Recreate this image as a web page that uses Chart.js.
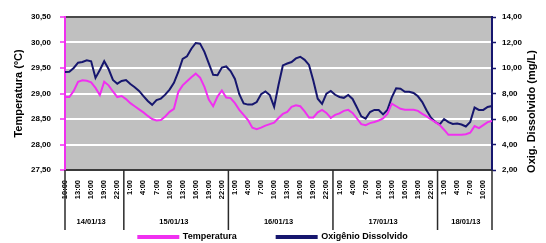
<!DOCTYPE html>
<html>
<head>
<meta charset="utf-8">
<script src="https://cdn.jsdelivr.net/npm/chart.js@4/dist/chart.umd.min.js"></script>
<style>
  html, body { margin: 0; padding: 0; background: #fff; }
  #wrap { width: 546px; height: 243px; }
</style>
</head>
<body>
<div id="wrap"><canvas id="graficoCampanha"></canvas></div>
<script>
// dias e horas (leituras de hora em hora)
const dias = ["14/01/13", "15/01/13", "16/01/13", "17/01/13", "18/01/13"];
const horas14 = ["10:00", "11:00", "12:00", "13:00", "14:00", "15:00", "16:00", "17:00", "18:00", "19:00", "20:00", "21:00", "22:00", "23:00"];
const horasDia = ["0:00", "1:00", "2:00", "3:00", "4:00", "5:00", "6:00", "7:00", "8:00", "9:00", "10:00", "11:00",
  "12:00", "13:00", "14:00", "15:00", "16:00", "17:00", "18:00", "19:00", "20:00", "21:00", "22:00", "23:00"];
const horas18 = ["0:00", "1:00", "2:00", "3:00", "4:00", "5:00", "6:00", "7:00", "8:00", "9:00", "10:00", "11:00", "12:00"];
const horasPorDia = [horas14, horasDia, horasDia, horasDia, horas18];

const temperatura = [
  28.93, 28.93, 29.05, 29.23, 29.26, 29.25, 29.22, 29.11, 28.97, 29.23,
  29.16, 29.04, 28.93, 28.95, 28.89, 28.81, 28.75, 28.69, 28.63, 28.56,
  28.50, 28.47, 28.48, 28.55, 28.64, 28.70, 29.03, 29.16, 29.24, 29.32,
  29.39, 29.31, 29.13, 28.88, 28.75, 28.94, 29.06, 28.92, 28.91, 28.81,
  28.68, 28.58, 28.48, 28.33, 28.30, 28.33, 28.37, 28.40, 28.43, 28.52,
  28.60, 28.64, 28.74, 28.77, 28.75, 28.65, 28.53, 28.53, 28.63, 28.68,
  28.62, 28.52, 28.58, 28.61, 28.66, 28.68, 28.62, 28.51, 28.40, 28.38,
  28.42, 28.44, 28.47, 28.51, 28.60, 28.80, 28.75, 28.70, 28.68, 28.68,
  28.68, 28.66, 28.60, 28.55, 28.49, 28.44, 28.38, 28.29, 28.19, 28.19,
  28.19, 28.19, 28.20, 28.23, 28.36, 28.32, 28.38, 28.44, 28.46
];
const oxigenio = [
  9.69, 9.70, 10.00, 10.42, 10.47, 10.60, 10.53, 9.22, 9.84, 10.53,
  9.92, 9.06, 8.77, 8.98, 9.06, 8.75, 8.49, 8.20, 7.80, 7.41,
  7.11, 7.49, 7.60, 7.91, 8.31, 8.84, 9.69, 10.71, 10.92, 11.51,
  11.96, 11.91, 11.27, 10.36, 9.47, 9.43, 10.03, 10.12, 9.76, 9.14,
  7.94, 7.22, 7.13, 7.14, 7.33, 7.94, 8.16, 7.88, 6.96, 8.67,
  10.20, 10.35, 10.47, 10.75, 10.88, 10.64, 10.24, 9.00, 7.59, 7.18,
  7.99, 8.20, 7.90, 7.73, 7.66, 7.88, 7.57, 6.90, 6.21, 6.03,
  6.55, 6.71, 6.71, 6.36, 6.71, 7.70, 8.41, 8.37, 8.14, 8.14,
  8.04, 7.78, 7.33, 6.67, 6.10, 5.76, 5.57, 6.00, 5.76, 5.61,
  5.65, 5.57, 5.41, 5.76, 6.90, 6.71, 6.71, 6.94, 7.02
];

const corTemp = "#f030f0";
const corOxi = "#16166e";
const tituloDireito = "Oxig. Dissolvido (mg/L)";

// rotulos do eixo x (hora) e do dia de cada leitura
var rotulosHora = [];
var rotulosDia = [];
var meioDia = [];
var fimDia = [];
horasPorDia.forEach(function (hs, d) {
  var ini = rotulosHora.length;
  hs.forEach(function (h) {
    rotulosHora.push(h);
    rotulosDia.push(dias[d]);
  });
  meioDia.push(ini + Math.floor((hs.length - 1) / 2));
  fimDia.push(rotulosHora.length - 1);
});

function virgula(v) {
  return v.toFixed(2).replace(".", ",");
}

var fonte = { family: "'Liberation Sans', Arial, sans-serif", weight: "bold" };
Chart.defaults.font.family = fonte.family;
Chart.defaults.color = "#000";

var enfeites = {
  id: "enfeites",
  afterLayout: function (chart) {
    // legenda com espaco largo entre os itens, sem roubar altura do grafico
    var lg = chart.legend;
    if (lg) lg.top = lg.bottom - (lg.options.labels.padding + 10.5);
  },
  beforeDraw: function (chart) {
    var ctx = chart.ctx, a = chart.chartArea;
    ctx.save();
    ctx.fillStyle = "#c0c0c0";
    ctx.fillRect(a.left, a.top, a.right - a.left, a.bottom - a.top);
    ctx.restore();
  },
  afterDraw: function (chart) {
    var ctx = chart.ctx, a = chart.chartArea;
    var x = chart.scales.x, x2 = chart.scales.x2;
    ctx.save();
    // divisorias entre os dias
    ctx.strokeStyle = "#2a2a2a";
    ctx.lineWidth = 1.5;
    var linhas = [a.left, a.right];
    fimDia.slice(0, -1).forEach(function (i) {
      linhas.push((x.getPixelForValue(i) + x.getPixelForValue(i + 1)) / 2);
    });
    linhas.forEach(function (px) {
      ctx.beginPath();
      ctx.moveTo(px, a.bottom);
      ctx.lineTo(px, x2.bottom + 6);
      ctx.stroke();
    });
    // titulo do eixo secundario (lido de baixo para cima)
    var y2 = chart.scales.y2;
    ctx.translate(y2.right - 14, (a.top + a.bottom) / 2 + 18);
    ctx.rotate(-Math.PI / 2);
    ctx.font = "bold 11px " + fonte.family;
    ctx.fillStyle = "#000";
    ctx.textAlign = "center";
    ctx.textBaseline = "middle";
    ctx.fillText(tituloDireito, 0, 0);
    ctx.restore();
  }
};

var ctx = document.getElementById("graficoCampanha").getContext("2d");

new Chart(ctx, {
  type: "line",
  data: {
    labels: rotulosHora,
    datasets: [
      {
        label: "Temperatura",
        data: temperatura,
        yAxisID: "y",
        borderColor: corTemp,
        backgroundColor: corTemp,
        borderWidth: 2,
        pointRadius: 0,
        tension: 0
      },
      {
        label: "Oxigênio Dissolvido",
        data: oxigenio,
        yAxisID: "y2",
        borderColor: corOxi,
        backgroundColor: corOxi,
        borderWidth: 2,
        pointRadius: 0,
        tension: 0
      }
    ]
  },
  options: {
    responsive: true,
    maintainAspectRatio: false,
    animation: false,
    layout: { padding: { top: 17, left: 0, right: 0, bottom: 0 } },
    plugins: {
      tooltip: { enabled: false },
      legend: {
        position: "bottom",
        maxHeight: 19,
        labels: {
          boxWidth: 40,
          boxHeight: 2,
          padding: 40,
          color: "#000",
          font: { family: fonte.family, weight: "bold", size: 9 }
        }
      }
    },
    scales: {
      x: {
        type: "category",
        offset: false,
        weight: 0,
        grid: { display: false, drawTicks: false },
        border: { display: true, color: "#3a3a3a", width: 2 },
        ticks: {
          autoSkip: false,
          minRotation: 90,
          maxRotation: 90,
          padding: 10,
          font: { family: fonte.family, weight: "bold", size: 7.5 },
          callback: function (v, i) {
            return i % 3 === 0 ? rotulosHora[i] : "";
          }
        },
        afterFit: function (s) { s.height = 38; }
      },
      x2: {
        type: "category",
        position: "bottom",
        labels: rotulosDia,
        offset: false,
        weight: 1,
        grid: { display: false, drawTicks: false },
        border: { display: false },
        ticks: {
          autoSkip: false,
          minRotation: 0,
          maxRotation: 0,
          padding: 9,
          font: { family: fonte.family, weight: "bold", size: 7.5 },
          callback: function (v, i) {
            return meioDia.indexOf(i) >= 0 ? rotulosDia[i] : "";
          }
        },
        afterFit: function (s) { s.height = 16; }
      },
      y: {
        position: "left",
        min: 27.5,
        max: 30.5,
        grid: {
          lineWidth: 2,
          tickLength: 5,
          tickWidth: 1.5,
          tickColor: corTemp,
          color: function (c) {
            if (!c.tick) return "#fff";
            return (c.tick.value === 30.5 || c.tick.value === 27.5) ? "#4a4a4a" : "#fff";
          }
        },
        border: { display: true, color: corTemp, width: 2 },
        ticks: {
          stepSize: 0.5,
          padding: 9,
          font: { family: fonte.family, weight: "bold", size: 8 },
          callback: function (v) { return virgula(v); }
        },
        title: {
          display: true,
          text: "Temperatura (ºC)",
          padding: { top: 12, bottom: 0 },
          font: { family: fonte.family, weight: "bold", size: 11 }
        },
        afterFit: function (s) { s.width = 65; }
      },
      y2: {
        position: "right",
        min: 2,
        max: 14,
        grid: {
          drawOnChartArea: false,
          tickLength: 4,
          tickWidth: 1.5,
          tickColor: corOxi
        },
        border: { display: true, color: corOxi, width: 2 },
        ticks: {
          stepSize: 2,
          padding: 6,
          font: { family: fonte.family, weight: "bold", size: 8 },
          callback: function (v) { return virgula(v); }
        },
        afterFit: function (s) { s.width = 54; }
      }
    }
  },
  plugins: [enfeites]
});
</script>
</body>
</html>
